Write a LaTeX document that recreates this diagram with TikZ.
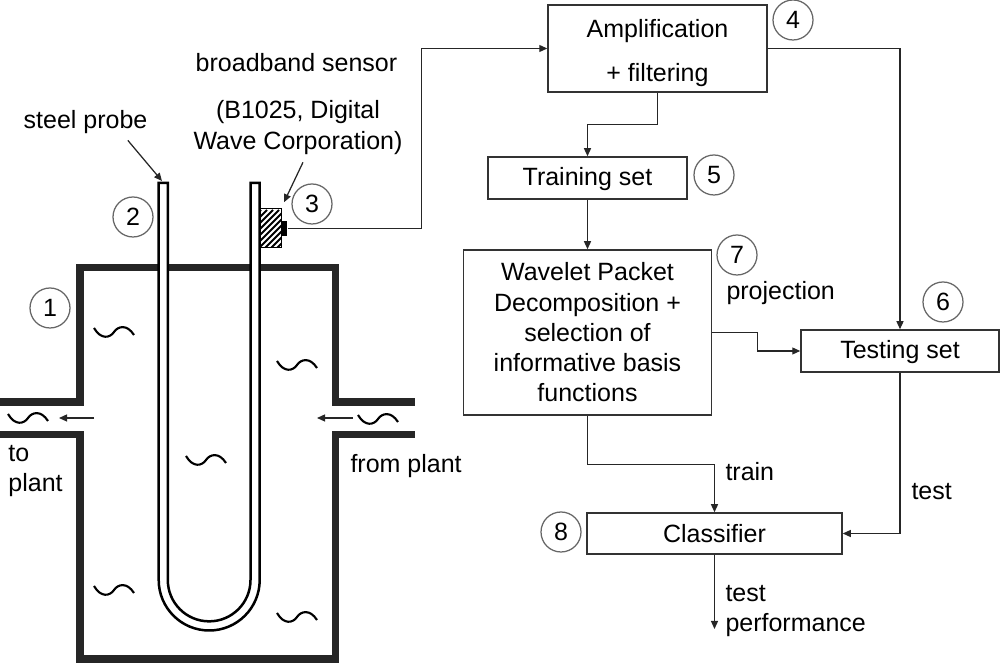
\documentclass[tikz,border=0pt]{standalone}
\usepackage{fontspec}
\setmainfont{Liberation Sans}
\usetikzlibrary{arrows.meta,positioning,calc}

\begin{document}
\begin{tikzpicture}[x=0.4pt,y=-0.4pt,
    font=\fontsize{10}{12.1}\selectfont,
    wall/.style={line width=3pt, draw=black!85},
    box/.style={draw=black!80, line width=0.6pt, inner sep=0pt, align=center},
    num/.style={circle, draw=black!60, line width=0.5pt, minimum size=16pt, inner sep=0pt},
    lbl/.style={inner sep=0pt},
    arr/.style={draw=black!85, line width=0.5pt, -{Triangle[length=3.2pt,width=2.8pt]}},
    wave/.pic={\draw[line width=0.85pt] (-20,-4) .. controls (-13,8) and (-4,6) .. (0,0) .. controls (4,-6) and (13,-8) .. (20,3);}]
    \useasboundingbox (0,0) rectangle (1000,664);

    % vessel with inlet and outlet
    \draw[wall] (0,402) -- (80,402) -- (80,267.5) -- (335.5,267.5) -- (335.5,402) -- (415,402);
    \draw[wall] (0,434.7) -- (80,434.7) -- (80,659) -- (335.5,659) -- (335.5,434.7) -- (415,434.7);

    % U-shaped steel probe
    \draw[fill=white, line width=1pt] (158.7,183) -- (158.7,580) arc[start angle=180, end angle=0, radius=50.5]
        -- (259.7,183) -- (250.5,183) -- (250.5,580) arc[start angle=0, end angle=180, radius=41.35]
        -- (167.8,183) -- cycle;

    % sensor
    \node[minimum width=8pt, minimum height=15.2pt, inner sep=0pt] (sens) at (271,228) {};
    \begin{scope}
        \clip (sens.south west) rectangle (sens.north east);
        \foreach \d in {0,6,...,60}
            \draw[line width=0.8pt] (221+\d,250) -- ++(40,-40);
    \end{scope}
    \draw[line width=0.6pt] (sens.south west) rectangle (sens.north east);
    \node[fill=black, minimum width=2.4pt, minimum height=6pt, inner sep=0pt] (plug) at (284,228.5) {};

    % fluid
    \foreach \p in {(114,332),(297,365),(28,418),(378,419),(206,460),(114,590),(297,617)}
        \pic at \p {wave};
    \draw[arr] (94,418) -- (59,418);
    \draw[arr] (353,418) -- (317,418);

    % labels of the set-up
    \node[lbl] (probelbl) at (85.5,122) {steel probe};
    \coordinate (probetop) at (162,181);
    \draw[arr] ([shift={(-8pt,-2.5pt)}]probelbl.south east) -- (probetop);
    \node[lbl] (sensname) at (296.5,63) {broadband sensor};
    \node[lbl, align=center] (senslbl) at (298,127.5) {(B1025, Digital\\Wave Corporation)};
    \draw[arr] ([xshift=2pt,yshift=-3pt]senslbl.south) -- ([shift={(1pt,2.5pt)}]sens.north east);
    \node[lbl, align=left, anchor=west] (toplant) at (8,471) {to\\plant};
    \node[lbl, anchor=west] (fromplant) at (350,466) {from plant};

    % processing chain
    \node[box, minimum width=87.6pt, minimum height=34.8pt] (amp) at (657.5,48.5) {\rule{0pt}{10.9pt}Amplification\\[5.8pt]+ filtering};
    \node[box, minimum width=79.6pt, minimum height=16.8pt] (train) at (587.5,178) {\rule{0pt}{8.4pt}Training set};
    \node[box, minimum width=99.2pt, minimum height=66pt] (wpd) at (587.5,332.5) {Wavelet Packet\\Decomposition +\\selection of\\informative basis\\functions};
    \node[box, minimum width=79.2pt, minimum height=16.8pt] (test) at (900,351) {\rule{0pt}{7.8pt}Testing set};
    \node[box, minimum width=102pt, minimum height=16.4pt] (clf) at (714.5,533.5) {Classifier};

    % numbers
    \node[num] (n1) at (50,308) {1};
    \node[num] (n2) at (133,217) {2};
    \node[num] (n3) at (312,204) {3};
    \node[num] (n4) at (793,20) {4};
    \node[num] (n5) at (714,175) {5};
    \node[num] (n6) at (943,302) {6};
    \node[num] (n7) at (737,255) {7};
    \node[num] (n8) at (561,532) {8};

    % connectors
    \draw[arr] (plug.east) -- ++(134,0) |- (amp.west);
    \draw[arr] (amp.east) -| (test.north);
    \draw[arr] (amp.south) -- ++(0,32) -| (train.north);
    \draw[arr] (train.south) -- (wpd.north);
    \draw[arr] (wpd.east) -- ++(45,0) |- (test.west);
    \draw[arr] (wpd.south) -- ++(0,49) -| (clf.north);
    \draw[arr] (test.south) |- (clf.east);
    \coordinate (perf) at (714.5,629);
    \draw[arr] (clf.south) -- (perf);

    \node[lbl, anchor=west] (proj) at (726,293) {projection};
    \node[lbl, anchor=west] (trainlbl) at (725,472) {train};
    \node[lbl, anchor=west] (testlbl) at (911,492) {test};
    \node[lbl, anchor=west, align=left] (perflbl) at (725,611) {test\\performance};
\end{tikzpicture}
\end{document}
